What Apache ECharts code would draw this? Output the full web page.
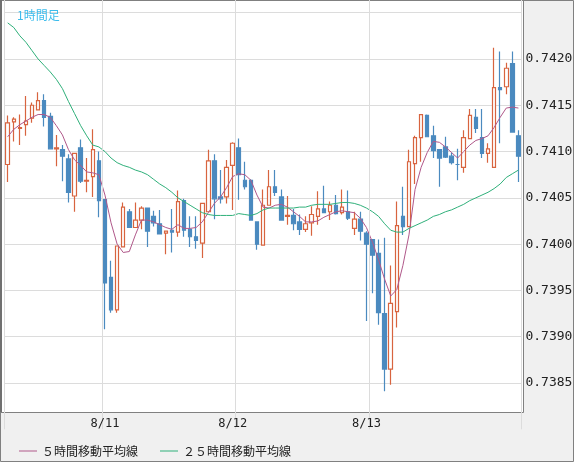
<!DOCTYPE html>
<html><head><meta charset="utf-8">
<script src="https://cdn.jsdelivr.net/npm/echarts@6/dist/echarts.min.js"></script>
<style>html,body{margin:0;padding:0;background:#f0f0f0}#c{width:574px;height:462px}</style>
</head><body><div id="c"></div>
<script>
// [open, close, low, high]
const ohlc = [
[0.74086,0.74131,0.74067,0.74139],[0.74132,0.74135,0.74111,0.74137],[0.74125,0.74126,0.74107,0.74140],[0.74129,0.74133,0.74117,0.74160],
[0.74136,0.74150,0.74131,0.74153],[0.74145,0.74155,0.74145,0.74164],[0.74155,0.74137,0.74127,0.74162],[0.74138,0.74103,0.74103,0.74142],
[0.74103,0.74104,0.74084,0.74118],[0.74102,0.74095,0.74068,0.74107],[0.74092,0.74056,0.74045,0.74097],[0.74052,0.74098,0.74035,0.74098],
[0.74104,0.74068,0.74066,0.74113],[0.74068,0.74069,0.74056,0.74093],[0.74073,0.74102,0.74051,0.74124],[0.74090,0.74047,0.74029,0.74100],
[0.74048,0.73958,0.73908,0.74048],[0.73964,0.73929,0.73926,0.73982],[0.73929,0.73998,0.73926,0.73998],[0.73997,0.74040,0.73997,0.74045],
[0.74035,0.74018,0.74018,0.74038],[0.74018,0.74026,0.74018,0.74045],[0.74026,0.74039,0.74016,0.74041],[0.74039,0.74014,0.73997,0.74039],
[0.74030,0.74023,0.74019,0.74036],[0.74022,0.74011,0.74011,0.74037],[0.74012,0.74014,0.73989,0.74014],[0.74015,0.74013,0.73991,0.74038],
[0.74013,0.74046,0.74008,0.74058],[0.74047,0.74015,0.74008,0.74049],[0.74016,0.74008,0.73997,0.74030],[0.74008,0.74004,0.73995,0.74030],
[0.74001,0.74044,0.73985,0.74044],[0.74035,0.74090,0.74035,0.74102],[0.74090,0.74049,0.74027,0.74097],[0.74051,0.74049,0.74044,0.74080],
[0.74051,0.74083,0.74044,0.74091],[0.74085,0.74109,0.74037,0.74110],[0.74104,0.74075,0.74048,0.74114],[0.74069,0.74062,0.74059,0.74089],
[0.74069,0.74026,0.74026,0.74070],[0.74024,0.74000,0.73994,0.74024],[0.73999,0.74042,0.73999,0.74059],[0.74042,0.74062,0.74042,0.74080],
[0.74062,0.74056,0.74052,0.74080],[0.74051,0.74026,0.74026,0.74059],[0.74030,0.74031,0.74021,0.74052],[0.74031,0.74022,0.74015,0.74038],
[0.74024,0.74016,0.74010,0.74032],[0.74016,0.74022,0.74013,0.74030],[0.74023,0.74032,0.74009,0.74041],[0.74030,0.74038,0.74021,0.74057],
[0.74038,0.74034,0.74034,0.74063],[0.74035,0.74042,0.74026,0.74046],[0.74042,0.74033,0.74032,0.74053],[0.74034,0.74040,0.74032,0.74059],
[0.74035,0.74028,0.74026,0.74058],[0.74017,0.74027,0.74010,0.74035],[0.74027,0.74014,0.74004,0.74035],[0.74012,0.74000,0.73917,0.74014],
[0.74005,0.73988,0.73947,0.74005],[0.73990,0.73926,0.73913,0.74005],[0.73925,0.73865,0.73841,0.74007],[0.73865,0.73936,0.73848,0.73977],
[0.73927,0.74020,0.73910,0.74046],[0.74030,0.74019,0.74010,0.74062],[0.74019,0.74089,0.74019,0.74102],[0.74087,0.74115,0.74065,0.74117],
[0.74115,0.74140,0.74089,0.74140],[0.74139,0.74116,0.74116,0.74140],[0.74117,0.74101,0.74093,0.74128],[0.74102,0.74093,0.74062,0.74102],
[0.74105,0.74094,0.74093,0.74116],[0.74095,0.74088,0.74086,0.74099],[0.74086,0.74086,0.74069,0.74103],[0.74083,0.74115,0.74077,0.74123],
[0.74114,0.74139,0.74114,0.74146],[0.74137,0.74125,0.74120,0.74146],[0.74115,0.74098,0.74093,0.74146],[0.74098,0.74103,0.74088,0.74109],
[0.74083,0.74169,0.74083,0.74212],[0.74169,0.74167,0.74109,0.74208],[0.74170,0.74190,0.74162,0.74196],[0.74195,0.74121,0.74121,0.74208],
[0.74117,0.74095,0.74067,0.74123]
];
const ma5 = [0.74116,0.74124,0.74129,0.74133,0.74137,0.74140,0.74140,0.74137,0.74128,0.74118,0.74102,0.74091,0.74085,0.74078,0.74077,0.74075,
0.74053,0.74023,0.74000,0.73991,0.73992,0.74010,0.74026,0.74026,0.74024,0.74021,0.74018,0.74016,0.74021,0.74017,0.74017,0.74018,
0.74024,0.74034,0.74044,0.74051,0.74061,0.74073,0.74076,0.74075,0.74069,0.74053,0.74040,0.74039,0.74042,0.74043,0.74040,0.74035,
0.74030,0.74024,0.74024,0.74025,0.74029,0.74032,0.74035,0.74036,0.74035,0.74034,0.74028,0.74018,0.74002,0.73983,0.73962,0.73944,
0.73951,0.73977,0.74010,0.74059,0.74083,0.74099,0.74111,0.74110,0.74105,0.74099,0.74093,0.74100,0.74107,0.74112,0.74114,0.74117,
0.74126,0.74137,0.74147,0.74148,0.74147];
const ma25 = [0.74239,0.74234,0.74225,0.74218,0.74209,0.74200,0.74193,0.74186,0.74178,0.74168,0.74154,0.74141,0.74128,0.74117,0.74107,0.74105,
0.74100,0.74093,0.74088,0.74085,0.74083,0.74080,0.74078,0.74075,0.74070,0.74065,0.74061,0.74056,0.74050,0.74046,0.74042,0.74038,
0.74034,0.74032,0.74031,0.74031,0.74031,0.74031,0.74033,0.74032,0.74031,0.74033,0.74037,0.74039,0.74039,0.74039,0.74039,0.74039,
0.74040,0.74040,0.74042,0.74043,0.74043,0.74043,0.74044,0.74045,0.74045,0.74044,0.74042,0.74039,0.74035,0.74030,0.74022,0.74015,
0.74013,0.74013,0.74017,0.74020,0.74023,0.74026,0.74030,0.74032,0.74035,0.74037,0.74040,0.74043,0.74047,0.74050,0.74053,0.74056,
0.74060,0.74065,0.74072,0.74076,0.74080];
const tickIndex = [16, 37, 59];
const tickLabels = ['8/11', '8/12', '8/13'];
const categories = ohlc.map((d, i) => String(i));
const hiddenTicks = [0.7425, 0.7380];

const RED = '#d8643f', BLUE = '#4b8abf', PURPLE = '#b0588a', GREEN = '#2fb07a';
const chart = echarts.init(document.getElementById('c'));
chart.setOption({
  animation: false,
  backgroundColor: '#f0f0f0',
  title: { text: '1時間足', left: 12, top: 4, textStyle: { color: '#3cbcec', fontSize: 12, fontWeight: 'normal', fontFamily: 'Noto Sans CJK JP' } },
  legend: {
    left: 14, top: 440, z: 70, itemWidth: 18, itemHeight: 1, itemGap: 22, icon: 'rect',
    textStyle: { fontSize: 12, color: '#222', fontFamily: 'Noto Sans CJK JP' },
    data: [{ name: '５時間移動平均線', itemStyle: { color: PURPLE } }, { name: '２５時間移動平均線', itemStyle: { color: GREEN } }]
  },
  graphic: [
    { type: 'rect', z: -100, silent: true, shape: { x: 0.5, y: 0.5, width: 523, height: 411.5 }, style: { fill: '#fff', stroke: 'none' } },
    { type: 'rect', z: 50, silent: true, shape: { x: 0, y: 412.5, width: 574, height: 50 }, style: { fill: '#f0f0f0' } },
    { type: 'rect', z: 51, silent: true, shape: { x: 0.5, y: 0.5, width: 523, height: 412 }, style: { fill: 'none', stroke: '#808080', lineWidth: 1 } },
    { type: 'rect', z: 51, silent: true, shape: { x: 0.5, y: 0.5, width: 573, height: 461 }, style: { fill: 'none', stroke: '#808080', lineWidth: 1 } },
    { type: 'line', z: 51, silent: true, shape: { x1: 1, y1: 0, x2: 1, y2: 412 }, style: { stroke: '#707070', lineWidth: 2 } }
  ],
  grid: { left: 4.66, width: 516.8, top: -33.6, height: 462.9, outerBoundsMode: 'none', containLabel: false },
  xAxis: {
    type: 'category', data: categories, boundaryGap: true, z: 60,
    axisLine: { show: false }, axisTick: { show: false },
    axisLabel: {
      margin: -11, fontSize: 12, color: '#222', fontFamily: 'DejaVu Sans Mono',
      interval: (i) => tickIndex.includes(i),
      formatter: (v, i) => { const k = tickIndex.indexOf(i); return k >= 0 ? tickLabels[k] : ''; }
    },
    splitLine: { show: true, interval: (i) => i === 0 || i === 16 || i === 38 || i === 60, lineStyle: { color: '#dcdcdc' } }
  },
  yAxis: {
    type: 'value', position: 'right', min: 0.7380, max: 0.7430, interval: 0.0005, offset: 0,
    axisLine: { show: false }, axisTick: { show: false },
    axisLabel: {
      margin: 4, fontSize: 13, color: '#222', fontFamily: 'DejaVu Sans Mono',
      formatter: (v) => hiddenTicks.some(h => Math.abs(h - v) < 1e-7) ? '' : v.toFixed(4)
    },
    splitLine: { lineStyle: { color: '#dcdcdc' } }
  },
  series: [
    { type: 'candlestick', data: ohlc.map(d => [d[0], d[1], d[2], d[3]]), barWidth: 4,
      itemStyle: { color: '#ffffff', color0: BLUE, borderColor: RED, borderColor0: BLUE, borderWidth: 1.2 } },
    { name: '５時間移動平均線', type: 'line', data: ma5, symbol: 'none', lineStyle: { color: PURPLE, width: 1 }, itemStyle: { color: PURPLE } },
    { name: '２５時間移動平均線', type: 'line', data: ma25, symbol: 'none', lineStyle: { color: GREEN, width: 1 }, itemStyle: { color: GREEN } }
  ]
});
</script></body></html>
